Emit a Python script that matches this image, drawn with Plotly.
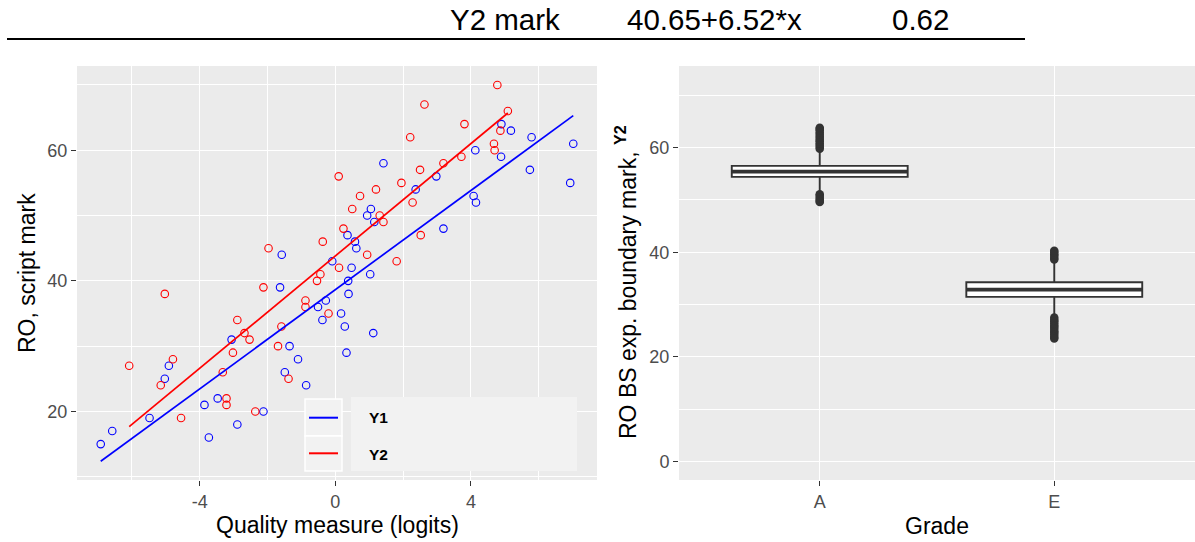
import plotly.graph_objects as go

# ---- scatter data: quality measure (logits) vs RO script mark ----
y1_x = [-1.58, 4.90, 5.18, 5.79, 7.02, 4.13, 4.89, 1.42, 5.74, 2.98, 6.93, 2.37, 4.08,
        4.15, 1.05, 0.94, 1.15, 3.19, 0.36, 0.58, 0.62, 0.48, 1.03, -0.09, 0.38, 0.39,
        0.17, 0.28, 1.12, 0.33, -1.63, -0.28, -0.51, -0.38, -3.06, -1.35, -1.10, -4.91,
        -1.49, -5.03, -0.86, -3.47, -3.86, -2.12, -5.48, -2.89, -6.58, -3.73, -6.92]
y1_y = [44, 64, 63, 62, 61, 60, 59, 58, 57, 56, 55, 54, 53,
        52, 51, 50, 49, 48, 47, 46, 45, 42, 41, 43, 40, 38,
        35, 33, 32, 29, 39, 37, 36, 34, 31, 30, 28, 27,
        26, 25, 24, 22, 21, 20, 19, 18, 17, 16, 15]

y2_x = [-1.97, -0.37, 0.10, 4.78, 2.63, 5.09, 3.81, 4.87, 2.21, 4.68, 4.70, 3.72, 3.19,
        2.50, 1.95, 1.20, 0.73, 2.28, 0.50, 1.31, 1.42, 0.24, 2.52, 0.94, 1.81, 0.11,
        -0.44, -0.54, -2.12, -5.03, -0.88, -0.88, -0.20, -2.89, -1.59, -2.68, -2.53,
        -1.69, -3.02, -4.79, -6.08, -3.32, -1.38, -5.15, -3.21, -3.21, -2.36, -4.55]
y2_y = [45, 46, 56, 70, 67, 66, 64, 63, 62, 61, 60, 59, 58,
        57, 55, 54, 53, 52, 51, 50, 49, 48, 47, 44, 43, 42,
        41, 40, 39, 38, 37, 36, 35, 34, 33, 32, 31,
        30, 29, 28, 27, 26, 25, 24, 22, 21, 20, 19]

# fitted lines (end points of each fit)
y1_fit_x = [-6.92, 7.02]
y1_fit_y = [12.37, 65.3]
y2_fit_x = [-6.08, 5.09]
y2_fit_y = [17.66, 65.7]

# ---- bootstrap boundary marks by grade ----
grades = ["A", "E"]
box_q1 = [54.4, 31.47]
box_median = [55.4, 32.86]
box_q3 = [56.5, 34.25]
box_lower = [51.3, 27.6]
box_upper = [59.6, 38.3]

out_A = [59.8, 60.1, 60.5, 60.8, 61.2, 61.5, 61.9, 62.2, 62.6, 62.9, 63.3, 63.6, 63.8,
         51.1, 50.8, 50.4, 50.1, 49.8, 49.6]
out_E = [38.6, 38.9, 39.3, 39.6, 40.0, 40.3,
         27.5, 27.1, 26.8, 26.4, 26.0, 25.7, 25.3, 24.9, 24.6, 24.2, 23.8, 23.5]

# ---- summary row above the panels ----
summary_cells = ["Y2 mark", "40.65+6.52*x", "0.62"]

W, H = 1195, 542
FONT = "Liberation Sans, Arial, sans-serif"
TICK_COL = "#4D4D4D"
AX_COL = "#333333"


def px(x):
    return x / W


def py(y):
    return 1 - y / H


fig = go.Figure()

fig.add_trace(go.Scatter(x=y1_x, y=y1_y, mode="markers", xaxis="x", yaxis="y",
                         marker=dict(symbol="circle-open", size=7.5, color="#0000FF",
                                     line=dict(width=1.1)),
                         showlegend=False))
fig.add_trace(go.Scatter(x=y2_x, y=y2_y, mode="markers", xaxis="x", yaxis="y",
                         marker=dict(symbol="circle-open", size=7.5, color="#FF0000",
                                     line=dict(width=1.1)),
                         showlegend=False))
fig.add_trace(go.Scatter(x=y1_fit_x, y=y1_fit_y, mode="lines", xaxis="x", yaxis="y",
                         line=dict(color="#0000FF", width=1.7), showlegend=False))
fig.add_trace(go.Scatter(x=y2_fit_x, y=y2_fit_y, mode="lines", xaxis="x", yaxis="y",
                         line=dict(color="#FF0000", width=1.7), showlegend=False))

# boxplots
fig.add_trace(go.Box(x=grades, q1=box_q1, median=box_median, q3=box_q3,
                     lowerfence=box_lower, upperfence=box_upper,
                     xaxis="x2", yaxis="y2", width=0.75, whiskerwidth=0,
                     fillcolor="white", line=dict(color=AX_COL, width=1.9),
                     boxpoints=False, showlegend=False, hoverinfo="skip"))
# thicker median bars
for g, m in zip(grades, box_median):
    fig.add_trace(go.Box(x=[g], q1=[m], median=[m], q3=[m], lowerfence=[m], upperfence=[m],
                         xaxis="x2", yaxis="y2", width=0.75, whiskerwidth=0,
                         fillcolor=AX_COL, line=dict(color=AX_COL, width=3.8),
                         boxpoints=False, showlegend=False, hoverinfo="skip"))

fig.add_trace(go.Scatter(x=["A"] * len(out_A), y=out_A, mode="markers", xaxis="x2", yaxis="y2",
                         marker=dict(size=8.5, color=AX_COL), showlegend=False))
fig.add_trace(go.Scatter(x=["E"] * len(out_E), y=out_E, mode="markers", xaxis="x2", yaxis="y2",
                         marker=dict(size=8.5, color=AX_COL), showlegend=False))

axis_common = dict(showgrid=True, gridcolor="white", gridwidth=1.4, zeroline=False,
                   showline=False, ticks="outside", ticklen=5, tickwidth=1.3,
                   tickcolor=AX_COL, tickfont=dict(family=FONT, size=18, color=TICK_COL),
                   automargin=False)

ydom = [py(480), py(66)]

fig.update_layout(
    width=W, height=H,
    margin=dict(l=0, r=0, t=0, b=0),
    paper_bgcolor="white", plot_bgcolor="#EBEBEB",
    font=dict(family=FONT, color="black"),
    showlegend=False,
    xaxis=dict(domain=[px(77), px(597)], range=[-7.62, 7.72], tickvals=[-4, 0, 4],
               ticktext=["-4", "0", "4"], anchor="y",
               minor=dict(tickvals=[-6, -2, 2, 6], showgrid=True, gridcolor="white",
                          gridwidth=0.7, ticks=""),
               **axis_common),
    yaxis=dict(domain=ydom, range=[9.5, 72.9], tickvals=[20, 40, 60], anchor="x",
               minor=dict(tickvals=[10, 30, 50, 70], showgrid=True, gridcolor="white",
                          gridwidth=0.7, ticks=""),
               **axis_common),
    xaxis2=dict(domain=[px(679), 1.0], type="category", range=[-0.6, 1.6], anchor="y2",
                categoryorder="array", categoryarray=grades, **axis_common),
    yaxis2=dict(domain=ydom, range=[-3.55, 75.6], tickvals=[0, 20, 40, 60], anchor="x2",
                minor=dict(tickvals=[10, 30, 50, 70], showgrid=True, gridcolor="white",
                           gridwidth=0.7, ticks=""),
                **axis_common),
)

annotations = []
shapes = []

# summary row and its rule
for cx, txt in zip([505, 714, 920], summary_cells):
    annotations.append(dict(x=px(cx), y=py(20), xref="paper", yref="paper", text=txt,
                            showarrow=False, xanchor="center", yanchor="middle",
                            font=dict(family=FONT, size=29.5, color="black")))
shapes.append(dict(type="line", xref="paper", yref="paper", x0=px(7), x1=px(1025),
                   y0=py(39), y1=py(39), line=dict(color="black", width=2)))

# axis titles
title_font = dict(family=FONT, size=23, color="black")
annotations += [
    dict(x=px(337), y=py(525), xref="paper", yref="paper", text="Quality measure (logits)",
         showarrow=False, xanchor="center", yanchor="middle", font=title_font),
    dict(x=px(27), y=py(273), xref="paper", yref="paper", text="RO, script mark",
         showarrow=False, xanchor="center", yanchor="middle", textangle=-90, font=title_font),
    dict(x=px(937), y=py(526), xref="paper", yref="paper", text="Grade",
         showarrow=False, xanchor="center", yanchor="middle", font=title_font),
    dict(x=px(626), y=py(282), xref="paper", yref="paper",
         text="RO BS exp. boundary mark, <sup><b>Y2</b></sup>",
         showarrow=False, xanchor="center", yanchor="middle", textangle=-90, font=title_font),
]

# legend block inside the scatter panel
shapes += [
    dict(type="rect", xref="paper", yref="paper", x0=px(351), x1=px(577), y0=py(471),
         y1=py(397), fillcolor="#F2F2F2", line=dict(width=0), layer="above"),
    dict(type="rect", xref="paper", yref="paper", x0=px(305), x1=px(342), y0=py(436),
         y1=py(399), fillcolor="#F2F2F2", line=dict(color="white", width=1.5), layer="above"),
    dict(type="rect", xref="paper", yref="paper", x0=px(305), x1=px(342), y0=py(471),
         y1=py(436), fillcolor="#F2F2F2", line=dict(color="white", width=1.5), layer="above"),
    dict(type="line", xref="paper", yref="paper", x0=px(309), x1=px(338), y0=py(417.7),
         y1=py(417.7), line=dict(color="#0000FF", width=2), layer="above"),
    dict(type="line", xref="paper", yref="paper", x0=px(309), x1=px(338), y0=py(453.3),
         y1=py(453.3), line=dict(color="#FF0000", width=2), layer="above"),
]
for lbl, yy in zip(["Y1", "Y2"], [417.7, 454.5]):
    annotations.append(dict(x=px(367), y=py(yy), xref="paper", yref="paper",
                            text="<b>%s</b>" % lbl, showarrow=False, xanchor="left",
                            yanchor="middle", font=dict(family=FONT, size=15.5, color="black")))

fig.update_layout(annotations=annotations, shapes=shapes)

fig.write_html("out.html")
